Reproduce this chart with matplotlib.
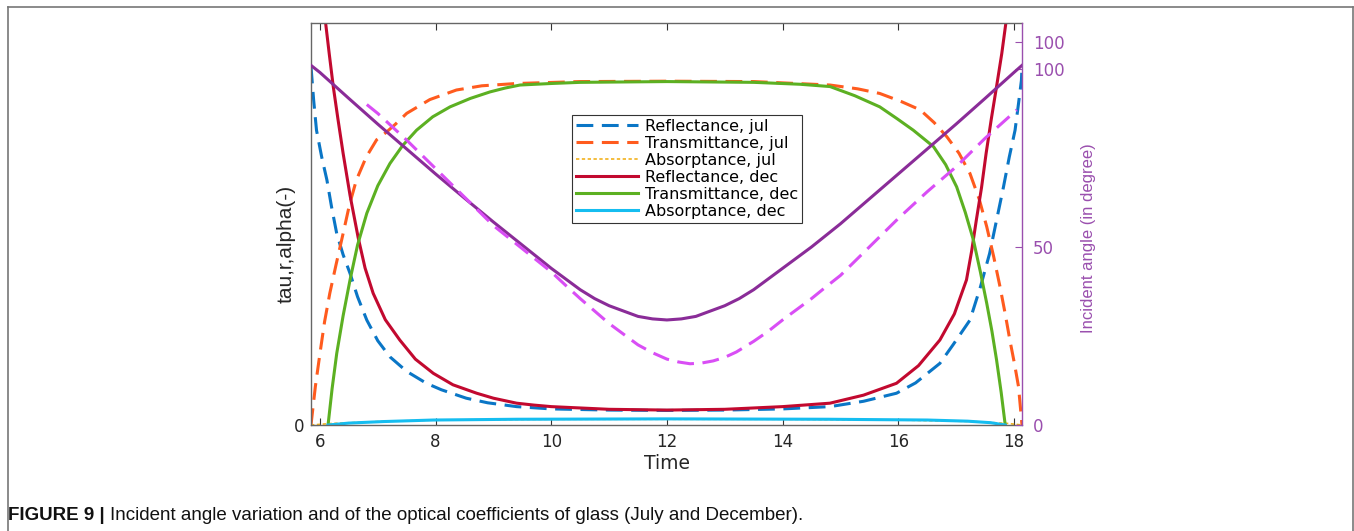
import matplotlib
matplotlib.use("Agg")
import matplotlib.pyplot as plt
from matplotlib.lines import Line2D

plt.rcParams['font.family'] = ['DejaVu Sans']

# Optical coefficients of glass, July (jul) and December (dec)
t_refl_jul = [5.845, 5.89, 5.94, 6.03, 6.12, 6.2, 6.29, 6.4, 6.52, 6.65, 6.81, 7.0, 7.21, 7.5,
              7.84, 8.1, 8.53, 8.9, 9.40, 9.8, 10.0, 11.0, 12.0, 13.0, 14.0, 14.82, 15.4,
              15.97, 16.3, 16.72, 16.95, 17.24, 17.42, 17.58, 17.7, 17.82, 17.92, 18.02, 18.08,
              18.13, 18.14]
refl_jul = [0.936, 0.85, 0.77, 0.70, 0.64, 0.57, 0.50, 0.445, 0.396, 0.335, 0.274, 0.22, 0.178, 0.14,
            0.109, 0.092, 0.070, 0.058, 0.048, 0.044, 0.042, 0.039, 0.038, 0.039, 0.042, 0.048, 0.062,
            0.083, 0.11, 0.161, 0.21, 0.274, 0.36, 0.448, 0.535, 0.622, 0.70, 0.77, 0.84,
            0.90, 0.935]

t_trans_jul = [5.845, 5.92, 6.0, 6.08, 6.17, 6.28, 6.40, 6.51, 6.63, 6.8, 6.98, 7.15, 7.30, 7.50,
               7.9, 8.36, 8.8, 9.40, 10.5, 12.0, 13.5, 14.82, 15.3, 15.68, 16.05, 16.38, 16.62,
               16.84, 17.05, 17.24, 17.4, 17.53, 17.65, 17.76, 17.85, 17.93, 18.01, 18.08, 18.14]
trans_jul = [0.0, 0.10, 0.187, 0.27, 0.344, 0.42, 0.50, 0.575, 0.64, 0.70, 0.745, 0.765, 0.785, 0.814,
             0.85, 0.875, 0.886, 0.892, 0.897, 0.898, 0.897, 0.888, 0.878, 0.866, 0.845, 0.823, 0.79,
             0.753, 0.71, 0.657, 0.59, 0.518, 0.44, 0.361, 0.29, 0.222, 0.16, 0.10, 0.0]

t_abs_jul = [5.845, 6.2, 7.0, 8.0, 10.0, 14.0, 16.0, 17.3, 17.9, 18.14]
abs_jul = [0.0, 0.004, 0.009, 0.013, 0.015, 0.015, 0.013, 0.009, 0.004, 0.0]

t_refl_dec = [6.09, 6.16, 6.23, 6.31, 6.40, 6.52, 6.66, 6.78, 6.92, 7.13, 7.38, 7.65, 7.96, 8.3,
              8.71, 9.0, 9.40, 9.7, 10.0, 11.0, 12.0, 13.0, 14.0, 14.82, 15.4, 15.97, 16.35,
              16.72, 16.97, 17.18, 17.27, 17.35, 17.44, 17.52, 17.61, 17.70, 17.79, 17.87]
refl_dec = [1.06, 0.97, 0.884, 0.80, 0.71, 0.60, 0.49, 0.41, 0.344, 0.275, 0.222, 0.172, 0.135, 0.105,
            0.083, 0.070, 0.057, 0.052, 0.048, 0.041, 0.039, 0.041, 0.048, 0.057, 0.078, 0.109, 0.155,
            0.222, 0.29, 0.379, 0.455, 0.535, 0.62, 0.71, 0.80, 0.884, 0.97, 1.06]

t_trans_dec = [6.14, 6.21, 6.29, 6.4, 6.52, 6.65, 6.81, 7.0, 7.21, 7.43, 7.67, 7.95, 8.25, 8.6,
               8.94, 9.2, 9.46, 10.0, 10.5, 12.0, 13.5, 14.3, 14.82, 15.25, 15.68, 15.98, 16.26,
               16.61, 16.82, 17.01, 17.16, 17.30, 17.42, 17.53, 17.62, 17.70, 17.78, 17.85]
trans_dec = [0.0, 0.095, 0.187, 0.285, 0.379, 0.47, 0.553, 0.625, 0.683, 0.73, 0.77, 0.805, 0.831, 0.853,
             0.870, 0.88, 0.888, 0.892, 0.895, 0.897, 0.895, 0.89, 0.884, 0.86, 0.831, 0.80, 0.77,
             0.727, 0.68, 0.622, 0.555, 0.483, 0.40, 0.318, 0.245, 0.170, 0.085, 0.0]

t_abs_dec = [6.14, 6.5, 7.1, 7.96, 9.4, 12.0, 14.8, 16.5, 17.2, 17.6, 17.85]
abs_dec = [0.0, 0.005, 0.009, 0.013, 0.015, 0.016, 0.015, 0.013, 0.010, 0.006, 0.0]

# Incident angle (degree)
t_ang_dec = [5.845, 6.0, 6.5, 7.0, 7.5, 8.0, 8.5, 9.0, 9.5, 10.0, 10.25, 10.5, 10.75, 11.0, 11.25,
             11.5, 11.75, 12.0, 12.25, 12.5, 12.75, 13.0, 13.25, 13.5, 13.75, 14.0, 14.5, 15.0,
             15.5, 16.0, 16.5, 17.0, 17.5, 18.0, 18.14]
ang_dec = [101, 99, 91.7, 84.5, 77.5, 70.5, 63.7, 57, 50.5, 44, 41, 38, 35.5, 33.5, 32,
           30.5, 29.8, 29.5, 29.8, 30.5, 32, 33.5, 35.5, 38, 41, 44, 50, 56.5,
           63.5, 70.5, 77.5, 84.5, 91.7, 99, 101]

t_ang_jul = [6.81, 7.0, 7.5, 8.0, 8.5, 9.0, 9.5, 10.0, 10.25, 10.5, 10.75, 11.0, 11.25, 11.5,
             11.75, 12.0, 12.2, 12.4, 12.6, 12.8, 13.0, 13.2, 13.35, 13.5, 13.75, 14.0, 14.25,
             14.5, 14.75, 15.0, 15.5, 16.0, 16.5, 17.0, 17.5, 18.05]
ang_jul = [90, 87.5, 80, 72, 64, 56, 49.5, 43, 39.2, 35.5, 32, 28.5, 25.5, 22.5,
           20.3, 18.5, 17.7, 17.2, 17.4, 18, 19, 20.5, 22, 23.5, 26.3, 29.5, 32.5,
           35.5, 38.8, 42, 50, 58, 65.5, 72.5, 80.5, 88.5]

xticks = [6, 8, 10, 12, 14, 16, 18]
right_ticks = [0, 50, 100, 107.6]
right_ticklabels = ['0', '50', '100', '100']

purple = '#9a4fae'
W, H = 1354, 531
fig = plt.figure(figsize=(W / 100, H / 100), dpi=100)
ax = fig.add_axes([311 / W, 1 - 425 / H, (1022 - 311) / W, (425 - 23) / H])
ax2 = ax.twinx()

dash = (5.5, 2.8)
l1, = ax.plot(t_refl_jul, refl_jul, color='#0a76c6', lw=2.2, dashes=dash, label='Reflectance, jul')
l2, = ax.plot(t_trans_jul, trans_jul, color='#ff5b1e', lw=2.2, dashes=dash, label='Transmittance, jul')
l3, = ax.plot(t_abs_jul, abs_jul, color='#f2b21e', lw=1.2, ls=(0, (2, 1.5)), label='Absorptance, jul')
l4, = ax.plot(t_refl_dec, refl_dec, color='#c2092f', lw=2.2, label='Reflectance, dec')
l5, = ax.plot(t_trans_dec, trans_dec, color='#5cb022', lw=2.2, label='Transmittance, dec')
l6, = ax.plot(t_abs_dec, abs_dec, color='#15bdf0', lw=2.2, label='Absorptance, dec')

ax2.plot(t_ang_dec, ang_dec, color='#8a2c98', lw=2.2)
ax2.plot(t_ang_jul, ang_jul, color='#d94ef5', lw=2.2, dashes=dash)

ax.set_xlim(5.845, 18.14)
ax.set_ylim(0, 1.05)
ax2.set_ylim(0, 112.9)

ax.set_xticks(xticks)
ax.set_yticks([0])
ax2.set_yticks(right_ticks)
ax2.set_yticklabels(right_ticklabels)

ax.tick_params(axis='x', direction='in', top=True, length=5, width=0.8, color='#333333',
               labelsize=12, labelcolor='#262626', pad=6)
ax.tick_params(axis='y', direction='in', length=5, width=0.8, color='#333333',
               labelsize=12, labelcolor='#262626', pad=5)
ax2.tick_params(axis='y', direction='in', length=5, width=0.8, color=purple,
                labelsize=12, labelcolor=purple, pad=8)

for name in ('left', 'bottom', 'top'):
    ax.spines[name].set_color('#666666')
    ax.spines[name].set_linewidth(1.0)
    ax2.spines[name].set_visible(False)
ax2.spines['right'].set_color(purple)
ax2.spines['right'].set_linewidth(1.0)
ax.spines['right'].set_visible(False)

ax.set_xlabel('Time', fontsize=13.5, color='#262626', labelpad=2)
ax.set_ylabel('tau,r,alpha(-)', fontsize=15, color='#262626',
              family='Liberation Sans')
ax.yaxis.set_label_coords(-0.022, 0.45)
ax2.set_ylabel('Incident angle (in degree)', fontsize=12, color=purple,
               family='Liberation Sans')
ax2.yaxis.set_label_coords(1.083, 0.465)

leg = ax2.legend(handles=[l1, l2, l3, l4, l5, l6], loc='upper left',
                 bbox_to_anchor=(572 / W, 1 - 115 / H), bbox_transform=fig.transFigure,
                 fontsize=11.5, frameon=True, fancybox=False, framealpha=1,
                 edgecolor='#333333', handlelength=3.9, handletextpad=0.4,
                 labelspacing=0.12, borderpad=0.25, borderaxespad=0)
leg.get_frame().set_linewidth(0.8)

# Page frame around the figure
frame_kw = dict(transform=fig.transFigure, color='#777777', lw=1.2)
fig.add_artist(Line2D([8 / W, 1353 / W], [1 - 7 / H, 1 - 7 / H], **frame_kw))
fig.add_artist(Line2D([8 / W, 8 / W], [1 - 7 / H, 0], **frame_kw))
fig.add_artist(Line2D([1353 / W, 1353 / W], [1 - 7 / H, 0], **frame_kw))

cap = fig.text(8 / W, 1 - 515 / H, 'FIGURE 9 | ', fontsize=13.5, fontweight='bold',
               family='Liberation Sans', va='center', ha='left', color='#111111')
fig.canvas.draw()
bb = cap.get_window_extent()
fig.text(bb.x1 / W, 1 - 515 / H,
         'Incident angle variation and of the optical coefficients of glass (July and December).',
         fontsize=13.5, family='Liberation Sans', va='center', ha='left', color='#111111')

fig.savefig('out.png', dpi=100)
